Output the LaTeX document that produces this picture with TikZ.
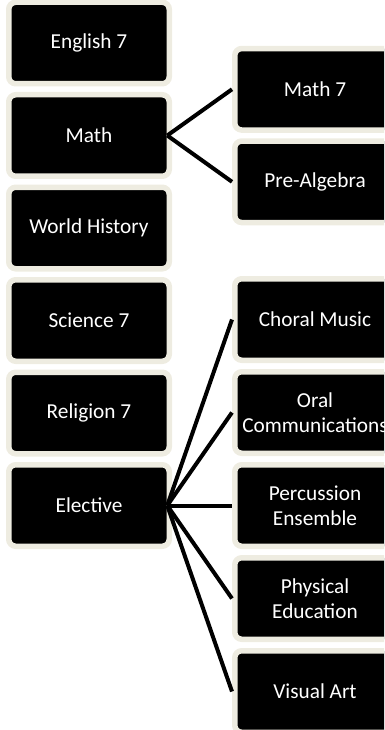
\documentclass[tikz,border=0pt]{standalone}
\usepackage{fontspec}
\setmainfont{Carlito}
\definecolor{tan}{HTML}{EEECE1}
\begin{document}
\begin{tikzpicture}[x=1pt,y=-1pt,
  box/.style={draw=tan, line width=5.5pt, fill=black, rounded corners=7pt,
    minimum width=160.5pt, minimum height=81.5pt, inner sep=0pt, outer sep=0pt,
    text=white, align=center, font=\fontsize{21.3}{24.5}\selectfont},
  conn/.style={line width=4pt, black}]
\useasboundingbox (0,0) rectangle (384,730);
\clip (0,0) rectangle (384,730);
% left column
\node[box] (eng) at (89,43) {English 7};
\node[box] (math) at (89,135.5) {Math};
\node[box] (wh) at (89,228) {World History};
\node[box] (sci) at (89,320.5) {Science 7};
\node[box] (rel) at (89,413) {Religion 7};
\node[box] (ele) at (89,505.5) {Elective};
% right column
\node[box] (m7) at (315,89.3) {Math 7};
\node[box] (pa) at (315,181.8) {Pre-Algebra};
\node[box] (cm) at (315,319.5) {Choral Music};
\node[box] (oc) at (315,412.5) {Oral\\Communications};
\node[box] (pe) at (315,505.5) {Percussion\\Ensemble};
\node[box] (phe) at (315,598.5) {Physical\\Education};
\node[box] (va) at (315,691.5) {Visual Art};
% connectors
\foreach \t in {m7,pa}
  \draw[conn] ([xshift=-2pt]math.east) -- ([xshift=-2.75pt]\t.west);
\foreach \t in {cm,oc,pe,phe,va}
  \draw[conn] ([xshift=-2pt]ele.east) -- ([xshift=-2.75pt]\t.west);
\end{tikzpicture}
\end{document}
